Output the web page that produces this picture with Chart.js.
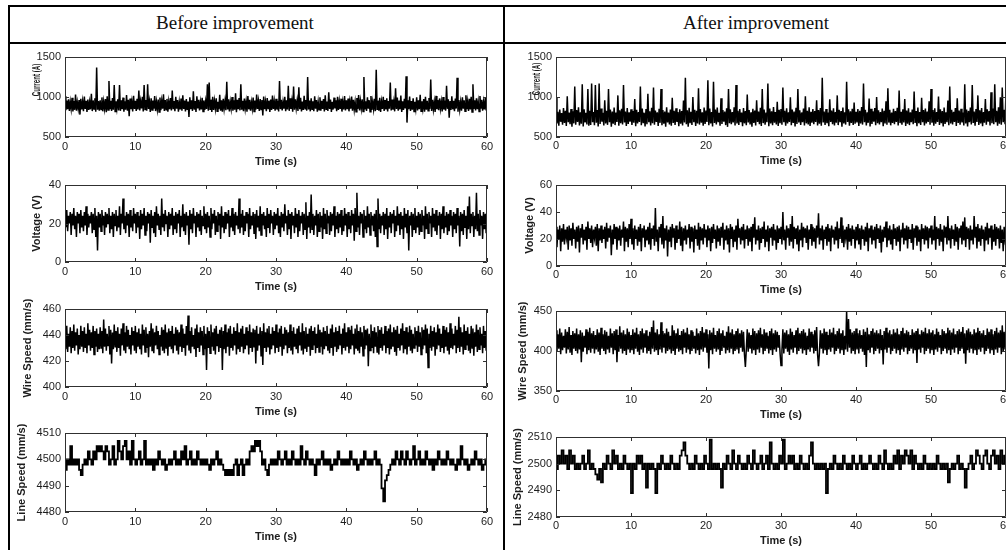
<!DOCTYPE html>
<html>
<head>
<meta charset="utf-8">
<script src="https://cdn.jsdelivr.net/npm/chart.js@4.4.1/dist/chart.umd.min.js"></script>
<style>
  html, body { margin: 0; padding: 0; background: #fff; }
  body { width: 1006px; height: 550px; overflow: hidden; position: relative; }
  .rule { position: absolute; background: #000; }
  .head { position: absolute; top: 12px; font-family: "Liberation Serif", "Times New Roman", serif;
          font-size: 19px; color: #111; white-space: nowrap; transform: translateX(-50%); }
  canvas { position: absolute; }
</style>
</head>
<body>
<!-- table frame -->
<div class="rule" style="left:9px; top:5px; width:1000px; height:2px;"></div>
<div class="rule" style="left:9px; top:42px; width:1000px; height:2px;"></div>
<div class="rule" style="left:8px; top:5px; width:2px; height:560px;"></div>
<div class="rule" style="left:503px; top:5px; width:2px; height:560px;"></div>
<div class="head" style="left:235px;">Before improvement</div>
<div class="head" style="left:756px;">After improvement</div>

<canvas id="bCur"></canvas>
<canvas id="bVol"></canvas>
<canvas id="bWire"></canvas>
<canvas id="bLine"></canvas>
<canvas id="aCur"></canvas>
<canvas id="aVol"></canvas>
<canvas id="aWire"></canvas>
<canvas id="aLine"></canvas>

<script>
// Sampling steps (s): arc signals and line-speed encoder
const ARC_INTERVAL = 0.125;
const LINE_INTERVAL = 0.25;
const TIME_TICKS = { min: 0, max: 60, step: 10 };

// ---------- Before improvement ----------
const beforeCurrent = [
  1010,835,955,848,972,826,940,852,990,818,948,840,1030,829,935,855,962,780,978,845,944,822,1005,850,951,812,968,838,938,846,1040,824,957,851,983,816,1370,842,949,830,
  960,844,995,821,942,853,975,809,1008,837,1200,848,953,825,986,840,1150,818,947,856,971,833,1150,827,958,849,992,815,945,841,1025,828,964,760,981,847,939,820,1015,852,
  953,826,979,845,1080,831,946,857,1002,819,1150,843,961,828,1160,850,944,814,985,839,957,853,1012,824,940,846,969,811,993,836,951,855,1035,827,962,842,976,817,943,849,
  988,832,1080,847,950,823,1001,854,963,815,937,844,982,829,1020,851,955,820,974,838,942,750,996,848,959,826,1070,843,948,812,1010,856,966,831,939,845,991,819,957,840,
  945,850,1160,827,1180,846,967,813,1003,839,952,857,984,822,941,848,1028,830,960,816,977,852,949,834,1190,845,970,821,938,855,999,828,958,842,1045,810,964,849,986,833,
  1160,841,951,824,980,853,943,817,1012,846,965,829,936,855,994,820,957,840,1030,851,948,826,973,844,961,770,1005,848,940,823,987,856,954,814,969,837,1018,850,946,828,
  978,843,952,818,1200,849,966,831,939,854,1001,822,958,845,1140,827,983,852,944,815,1130,840,971,856,950,825,1120,847,990,819,942,838,1015,853,963,829,1250,844,955,821,
  984,848,947,823,1009,855,962,816,938,841,996,830,953,852,975,819,1022,846,944,827,1060,850,967,813,940,843,992,857,959,824,1004,839,948,851,979,818,936,845,1013,832,
  957,847,981,821,943,854,1006,828,965,842,939,815,988,850,1024,833,951,856,972,820,1250,844,946,826,997,853,960,817,1011,840,942,849,976,823,1340,847,954,830,989,812,
  941,851,1003,826,962,845,985,818,949,855,1180,832,968,843,937,821,1110,850,994,829,956,846,1019,814,945,839,978,857,1260,680,960,848,1007,825,950,842,983,819,940,853,
  996,831,958,847,1027,822,947,854,974,816,1002,840,953,828,987,851,1220,825,966,845,939,813,1014,849,961,834,982,856,944,820,999,843,957,829,1140,852,970,740,948,838,
  1008,846,952,824,980,855,1240,817,963,841,937,830,995,853,958,821,1021,848,946,826,977,844,1004,812,1160,850,959,833,985,847,942,819,1012,854,966,828,938,845,990,831,
  1040
];
const beforeVoltage = [
  25,18,27,16,24,20,26,14,25,19,28,17,24,13,26,20,25,15,27,18,24,16,26,19,29,14,25,18,24,20,26,15,25,17,28,13,24,6,26,18,
  25,16,27,19,24,14,26,18,25,20,28,15,24,17,26,13,25,19,27,16,24,18,29,14,25,20,33,17,24,15,26,19,25,13,27,18,24,16,28,20,
  25,15,26,18,24,12,27,17,25,19,28,14,24,16,26,20,25,10,27,18,24,15,26,13,29,19,25,17,24,14,33,18,25,16,27,20,24,13,26,17,
  25,19,28,14,24,17,26,15,25,20,27,13,24,18,30,16,25,14,26,19,24,9,27,17,25,15,28,20,24,13,26,18,25,16,27,14,24,19,29,17,
  25,15,26,18,24,13,28,17,25,20,27,14,24,16,26,19,25,12,29,18,24,15,26,17,25,20,27,13,24,18,28,16,25,14,26,19,24,17,33,15,
  25,18,27,14,24,16,26,20,25,13,28,17,24,19,26,15,25,12,27,18,24,16,29,14,25,19,26,17,24,13,28,18,25,15,27,20,24,14,26,17,
  25,19,28,15,24,13,26,18,25,16,30,20,24,14,27,17,25,12,26,19,24,15,28,18,25,13,27,16,24,20,26,14,25,17,31,12,24,18,26,15,
  35,17,25,14,24,19,27,13,25,16,26,18,24,12,28,17,25,15,27,20,24,14,26,16,25,19,29,13,24,17,26,15,25,18,27,14,24,16,28,19,
  25,13,26,17,24,15,27,19,25,11,28,16,36,18,24,14,26,20,25,13,27,17,24,15,29,18,25,14,26,19,24,16,25,13,27,8,33,17,25,15,
  24,19,26,14,25,17,28,12,24,18,26,15,25,20,27,13,24,16,29,19,25,14,26,17,24,12,28,18,25,15,27,6,24,19,26,13,25,17,28,15,
  24,18,26,14,25,16,27,19,24,12,29,17,25,15,26,20,24,13,28,18,25,16,27,14,24,19,26,12,25,17,29,15,24,18,26,14,25,16,27,19,
  24,13,26,17,25,15,28,19,24,8,26,16,25,14,27,18,24,12,29,17,34,15,25,19,26,13,24,17,36,16,25,14,27,19,24,12,26,17,25,15,
  30
];
const beforeWireSpeed = [
  444,429,447,427,441,431,446,426,443,430,448,428,442,432,445,425,440,429,447,431,443,427,446,430,441,426,449,432,444,428,442,430,447,425,443,431,445,427,441,429,
  446,430,443,426,452,431,445,428,441,432,447,425,444,418,442,429,448,431,443,427,446,430,441,424,445,432,449,428,442,426,447,431,444,429,440,425,446,432,443,428,
  447,426,442,431,445,429,441,425,448,432,444,427,446,430,441,423,443,431,449,428,445,426,442,432,447,429,443,425,440,431,446,428,444,426,448,430,442,424,445,431,
  443,429,447,426,441,432,446,428,444,425,442,431,448,427,445,430,441,424,447,432,455,428,443,426,446,431,440,429,445,423,448,430,442,427,446,432,443,425,447,429,
  441,413,446,430,443,426,448,431,442,428,445,425,447,432,441,427,444,430,446,413,443,429,448,426,442,431,445,424,447,430,441,428,446,432,443,425,449,429,442,427,
  445,431,447,426,441,429,446,432,443,425,448,430,442,427,445,431,444,418,447,428,441,432,446,424,443,417,449,430,442,427,445,431,447,425,441,429,446,432,443,426,
  448,430,442,427,445,431,447,424,441,429,446,432,444,426,442,430,448,428,443,425,446,431,441,429,445,426,447,432,442,428,449,425,443,430,446,427,441,431,445,424,
  447,429,443,432,446,426,441,430,448,427,444,431,442,425,446,429,443,432,447,428,441,426,445,430,448,424,442,431,446,427,443,429,447,432,441,425,445,430,449,428,
  442,431,446,426,444,429,447,432,441,425,445,430,448,428,443,426,446,431,442,424,447,429,444,432,445,416,441,428,448,430,443,426,446,431,442,427,447,425,444,430,
  446,428,441,432,447,426,443,430,445,425,448,429,442,431,446,427,444,424,447,430,441,428,445,432,449,426,443,429,446,425,442,431,447,428,444,426,441,430,446,432,
  443,427,447,431,442,425,446,429,444,432,448,426,445,415,441,430,447,428,443,431,446,424,442,429,448,432,445,427,441,430,447,426,444,431,446,428,442,425,449,430,
  445,429,441,432,447,426,444,430,454,427,446,431,442,425,448,429,443,432,446,428,441,426,447,430,445,424,442,431,448,427,444,429,446,432,441,426,447,430,443,428,
  441
];
const beforeLineSpeed = [
  4496,4500,4498,4505,4498,4500,4498,4500,4496,4494,4498,4500,4498,4503,4500,4498,4503,4500,4505,4503,
  4505,4503,4500,4505,4503,4498,4500,4505,4498,4500,4507,4503,4500,4505,4507,4500,4503,4498,4507,4500,
  4498,4500,4503,4498,4500,4507,4498,4500,4498,4500,4496,4500,4498,4503,4500,4498,4500,4496,4498,4500,
  4498,4500,4503,4498,4500,4498,4503,4500,4505,4498,4500,4503,4498,4500,4498,4503,4500,4498,4500,4498,
  4500,4498,4496,4500,4498,4500,4503,4498,4500,4498,4496,4494,4496,4494,4496,4494,4498,4500,4494,4498,
  4500,4494,4498,4500,4498,4503,4505,4503,4507,4505,4507,4503,4498,4500,4496,4494,4498,4500,4498,4500,
  4498,4503,4500,4498,4500,4503,4498,4500,4498,4503,4500,4498,4500,4498,4505,4500,4498,4503,4500,4498,
  4500,4498,4494,4500,4498,4500,4503,4498,4500,4498,4500,4496,4498,4500,4498,4503,4500,4498,4500,4498,
  4500,4498,4503,4500,4498,4500,4496,4498,4500,4498,4503,4500,4498,4500,4498,4500,4503,4498,4500,4498,
  4489,4484,4492,4494,4496,4498,4500,4498,4503,4500,4498,4503,4500,4498,4503,4500,4498,4500,4505,4498,
  4500,4503,4498,4500,4498,4503,4500,4498,4500,4496,4500,4498,4503,4500,4498,4500,4498,4503,4500,4498,
  4500,4498,4496,4500,4498,4505,4500,4498,4500,4496,4498,4500,4498,4503,4500,4498,4500,4496,4498,4500,
  4500
];

// ---------- After improvement ----------
const afterCurrent = [
  990,668,815,642,842,690,798,655,861,676,827,638,1010,684,805,660,849,629,820,671,1130,653,836,688,872,645,810,667,1160,632,845,681,803,658,1100,640,826,650,1170,686,
  812,647,1150,679,838,633,1170,662,856,691,801,644,960,670,829,652,1100,685,843,628,817,666,868,649,807,687,1020,641,834,673,852,656,1150,682,819,637,862,664,808,690,
  846,651,825,678,975,635,839,668,813,689,1130,646,857,674,804,631,848,660,1040,684,822,643,866,671,1120,654,831,688,809,639,853,677,1100,648,837,665,818,630,871,683,
  806,657,844,640,990,676,828,652,859,689,811,634,847,667,823,645,955,681,1240,660,834,628,864,672,815,650,1000,686,841,638,826,669,1110,655,850,679,808,642,867,663,
  830,687,1210,646,855,670,812,633,1190,675,842,656,869,684,802,641,985,664,836,690,818,649,858,627,1100,673,845,659,811,682,870,643,1150,668,827,652,848,685,805,636,
  861,671,824,648,1030,683,838,657,809,630,852,676,832,644,960,688,817,661,865,639,1100,674,843,653,806,686,1170,635,856,668,821,647,874,680,813,658,940,637,839,672,
  848,654,1120,684,826,640,859,669,810,689,995,646,844,675,819,631,866,662,1100,681,835,650,807,686,857,643,1010,671,829,656,872,637,814,678,850,660,825,689,960,645,
  837,666,863,641,1240,683,818,652,849,674,805,634,970,687,832,659,858,644,812,678,1020,649,841,684,824,630,867,670,809,655,1190,688,846,642,821,676,854,651,930,667,
  816,683,849,639,827,670,873,655,1170,686,840,644,808,677,980,632,853,663,820,690,862,648,1000,672,834,657,811,685,857,636,828,669,945,652,1110,680,839,646,804,675,
  851,661,823,689,866,643,1080,674,815,654,845,682,975,638,830,667,858,649,809,686,842,660,1070,676,824,635,869,671,812,650,990,684,838,645,856,668,817,688,948,653,
  1100,679,836,641,860,666,813,687,1005,650,847,673,825,633,868,662,810,684,955,647,1130,670,839,656,816,689,863,639,985,675,831,653,854,681,807,644,1160,668,844,631,
  826,685,869,658,1150,676,818,642,850,688,1020,651,833,670,861,636,812,680,975,655,845,690,823,645,1060,673,856,661,1160,684,829,640,872,667,995,652,1120,686,840,659,
  1080
];
const afterVoltage = [
  29,14,27,20,30,11,28,18,31,16,27,21,29,12,30,19,28,15,32,20,27,13,29,18,30,10,28,21,31,16,27,19,29,12,33,20,28,17,30,14,
  27,21,29,15,31,11,28,19,30,17,27,20,29,13,32,18,28,21,30,8,27,16,31,20,29,12,28,19,30,15,27,21,33,11,29,18,28,14,31,20,
  35,16,28,12,30,20,27,15,29,18,31,11,28,21,30,14,27,19,29,16,32,12,28,20,30,15,43,18,27,11,29,21,31,16,37,13,28,19,30,7,
  27,18,29,14,31,21,28,12,30,17,27,20,33,15,29,11,28,19,30,16,27,21,31,13,29,18,28,10,30,20,27,15,32,12,29,19,28,16,31,21,
  27,14,30,19,28,11,29,17,31,20,27,13,30,18,28,15,29,21,32,12,27,19,30,16,28,10,31,20,29,14,27,18,30,12,35,21,28,16,29,19,
  31,13,27,20,30,15,28,18,29,11,31,21,36,16,27,19,30,12,28,17,29,20,33,14,27,18,30,11,28,21,29,15,31,19,27,12,30,17,28,20,
  29,16,40,19,27,12,30,21,28,15,31,18,37,13,29,20,28,16,30,11,27,19,32,14,29,21,28,17,30,12,27,20,31,15,29,18,28,13,30,21,
  39,16,28,19,30,12,27,20,29,15,31,18,28,11,30,21,27,16,29,19,33,13,28,20,36,17,30,14,27,21,29,12,31,18,28,15,30,20,27,13,
  29,19,31,16,28,12,30,20,27,15,29,18,32,11,28,21,30,16,27,19,29,13,31,20,28,17,30,10,27,18,29,21,33,14,28,19,30,16,27,12,
  31,20,28,15,29,18,30,11,27,21,32,16,28,19,30,13,29,20,27,17,31,12,28,21,30,15,29,18,27,11,31,20,28,16,30,19,29,13,28,21,
  30,16,27,19,37,12,29,20,28,15,31,18,27,11,30,21,29,16,37,19,28,13,30,20,27,15,31,18,29,12,28,21,30,16,33,19,36,14,29,20,
  28,12,30,19,27,16,37,21,29,13,31,18,28,15,30,20,27,11,29,19,32,16,28,21,30,12,27,18,31,15,29,20,28,13,30,17,27,11,29,19,
  22
];
const afterWireSpeed = [
  426,399,421,403,428,396,423,401,419,404,427,397,424,402,430,398,420,395,425,403,422,400,428,397,421,402,426,386,423,399,419,404,427,396,424,401,429,398,422,403,
  425,397,420,402,427,399,423,395,429,403,421,400,426,396,424,402,419,398,428,404,422,396,425,401,427,386,420,399,431,403,423,397,426,400,421,395,428,402,424,398,
  420,401,427,396,423,403,429,399,421,395,425,402,428,398,422,404,426,397,419,400,424,396,430,403,438,399,423,401,427,395,421,402,436,398,425,404,422,397,428,400,
  424,402,419,397,432,400,426,395,422,403,428,399,420,401,425,396,427,404,423,398,429,402,421,396,426,400,424,403,419,397,428,401,422,395,425,402,430,399,423,404,
  427,398,421,378,426,401,423,396,429,403,420,399,425,402,428,395,422,400,426,404,419,397,424,401,431,398,423,403,427,396,421,400,425,402,428,397,422,404,426,399,
  424,396,380,402,427,399,423,403,420,397,428,401,425,395,422,402,426,398,429,404,421,396,427,400,423,403,419,397,425,401,428,395,422,402,426,399,424,404,420,397,
  382,401,427,397,423,403,426,399,421,395,428,402,424,398,420,404,426,396,429,400,422,403,425,397,427,401,423,395,419,402,428,399,424,404,421,397,426,400,430,396,
  381,398,426,403,422,397,428,401,424,395,420,402,427,399,423,404,429,396,421,400,425,403,428,397,422,401,426,395,419,402,450,399,440,404,427,397,423,400,425,396,
  428,402,422,397,426,403,420,399,427,395,424,380,429,401,421,398,425,404,428,396,423,400,426,403,422,397,427,401,420,383,425,402,429,398,423,404,426,396,421,400,
  427,403,423,397,428,401,421,395,425,402,429,399,422,404,426,396,424,400,420,403,427,397,423,401,425,385,428,402,421,398,426,404,424,396,429,400,422,403,427,397,
  423,401,426,395,421,402,428,399,424,404,420,396,427,400,425,403,422,397,429,401,426,395,423,402,428,398,421,404,425,396,427,400,424,403,430,397,422,384,426,401,
  428,398,424,403,421,397,427,401,423,395,429,402,425,399,422,404,426,396,420,400,428,403,424,397,427,401,421,395,425,402,429,398,423,404,426,396,432,400,424,402,
  426
];
const afterLineSpeed = [
  2498,2503,2500,2505,2500,2503,2498,2505,2500,2503,2498,2500,2498,2500,2503,2498,2500,2505,2498,2500,
  2498,2496,2494,2498,2493,2500,2498,2503,2500,2498,2505,2500,2503,2498,2500,2498,2503,2500,2498,2500,
  2489,2500,2498,2503,2500,2503,2498,2500,2491,2500,2498,2500,2498,2489,2500,2498,2503,2500,2498,2500,
  2498,2503,2500,2498,2500,2498,2503,2505,2508,2503,2500,2498,2500,2498,2503,2500,2498,2500,2498,2503,
  2500,2498,2509,2498,2500,2498,2500,2498,2491,2500,2498,2503,2500,2498,2505,2500,2498,2503,2500,2498,
  2500,2498,2503,2500,2498,2505,2500,2498,2500,2503,2498,2500,2503,2498,2508,2500,2498,2500,2498,2503,
  2500,2509,2498,2500,2503,2500,2503,2498,2500,2498,2503,2500,2498,2500,2498,2503,2508,2500,2498,2500,
  2498,2500,2498,2500,2489,2498,2500,2498,2503,2500,2498,2500,2498,2503,2500,2498,2500,2498,2503,2500,
  2498,2500,2503,2498,2500,2498,2500,2503,2500,2498,2500,2498,2503,2500,2498,2505,2500,2498,2500,2498,
  2503,2500,2505,2498,2503,2500,2505,2503,2500,2505,2498,2503,2500,2498,2500,2498,2503,2500,2498,2500,
  2498,2500,2498,2503,2500,2498,2500,2498,2500,2493,2498,2500,2498,2500,2503,2498,2500,2498,2491,2498,
  2500,2503,2498,2500,2505,2503,2500,2498,2503,2505,2500,2498,2503,2505,2500,2503,2498,2505,2500,2503,
  2500
];

// y-axis ranges [min, max, step]
const curRange = [500, 1500, 500];
const bVolRange = [0, 40, 20];
const aVolRange = [0, 60, 20];
const bWireRange = [400, 460, 20];
const aWireRange = [350, 450, 50];
const bLineRange = [4480, 4510, 10];
const aLineRange = [2480, 2510, 10];

// ---------- drawing ----------
const FONT_FAMILY = "'Liberation Sans', Arial, sans-serif";
const TICK_FONT = { family: FONT_FAMILY, size: 11 };
const LABEL_FONT = { family: FONT_FAMILY, size: 11, weight: 'bold' };
const TEXT_COLOR = '#1c1c1c';
const TOP_PAD = 16;

// MATLAB-style box with inward ticks on all four sides
const boxFrame = {
  id: 'boxFrame',
  afterDatasetsDraw(chart) {
    const { ctx, chartArea: a, scales: { x, y } } = chart;
    const tl = 4;
    ctx.save();
    ctx.strokeStyle = '#303030';
    ctx.lineWidth = 1;
    ctx.beginPath();
    ctx.rect(a.left + 0.5, a.top + 0.5, a.right - a.left - 1, a.bottom - a.top - 1);
    x.ticks.forEach(t => {
      const px = Math.round(x.getPixelForValue(t.value)) + 0.5;
      ctx.moveTo(px, a.bottom); ctx.lineTo(px, a.bottom - tl);
      ctx.moveTo(px, a.top); ctx.lineTo(px, a.top + tl);
    });
    y.ticks.forEach(t => {
      const py = Math.round(y.getPixelForValue(t.value)) + 0.5;
      ctx.moveTo(a.left, py); ctx.lineTo(a.left + tl, py);
      ctx.moveTo(a.right, py); ctx.lineTo(a.right - tl, py);
    });
    ctx.stroke();
    ctx.restore();
  }
};

// rotated y-axis caption placed at a given x (and optional y) on the canvas;
// squeeze < 1 condenses the caption along its length
const yCaption = {
  id: 'yCaption',
  afterDraw(chart, args, o) {
    const { ctx, chartArea: a } = chart;
    ctx.save();
    ctx.translate(o.x, o.y != null ? o.y : (a.top + a.bottom) / 2);
    ctx.rotate(-Math.PI / 2);
    ctx.scale(o.squeeze || 1, 1);
    ctx.font = `bold ${o.size}px ${FONT_FAMILY}`;
    ctx.fillStyle = TEXT_COLOR;
    ctx.textAlign = 'center';
    ctx.textBaseline = 'middle';
    ctx.fillText(o.text, 0, 0);
    ctx.restore();
  }
};

function panel(id, g, values, interval, range, yTitle, stepped) {
  const cv = document.getElementById(id);
  const top = g.plotTop - TOP_PAD;
  const h = g.plotBottom - g.plotTop + TOP_PAD + 34;
  cv.width = g.w; cv.height = h;
  cv.style.left = g.x + 'px'; cv.style.top = top + 'px';
  cv.style.width = g.w + 'px'; cv.style.height = h + 'px';
  new Chart(cv, {
    type: 'line',
    data: {
      datasets: [{
        data: values.map((v, i) => ({ x: i * interval, y: v })),
        borderColor: '#000',
        borderWidth: stepped ? 1.8 : 1.5,
        pointRadius: 0,
        tension: 0,
        stepped: stepped ? 'before' : false
      }]
    },
    options: {
      responsive: false,
      animation: false,
      devicePixelRatio: 1,
      events: [],
      layout: { padding: { top: TOP_PAD, right: g.padR, left: 0, bottom: 0 } },
      plugins: {
        legend: { display: false },
        tooltip: { enabled: false },
        yCaption: { text: yTitle, x: g.capX - g.x, y: g.capY != null ? g.capY - top : null,
                    size: 11, squeeze: g.squeeze || 1 }
      },
      scales: {
        x: {
          type: 'linear', min: TIME_TICKS.min, max: TIME_TICKS.max,
          ticks: { stepSize: TIME_TICKS.step, padding: g.xTickPad, font: TICK_FONT, color: TEXT_COLOR,
                   maxRotation: 0, autoSkip: false, callback: v => String(v) },
          grid: { display: false, drawTicks: false },
          border: { display: false },
          title: { display: true, text: 'Time (s)', font: LABEL_FONT, color: TEXT_COLOR, padding: { top: 0, bottom: g.xTitlePad } },
          afterFit: s => { s.height = 34; s.paddingLeft = 0; s.paddingRight = 0; }
        },
        y: {
          type: 'linear', min: range[0], max: range[1],
          ticks: { stepSize: range[2], padding: 4, font: TICK_FONT, color: TEXT_COLOR, autoSkip: false, callback: v => String(v) },
          grid: { display: false, drawTicks: false },
          border: { display: false },
          afterFit: s => { s.width = g.yW; s.paddingTop = 0; s.paddingBottom = 0; }
        }
      }
    },
    plugins: [boxFrame, yCaption]
  });
}

// left column: plot area x 65..487, right column: 556..1006
const L = { x: 12, w: 488, yW: 53, padR: 13, xTickPad: 3, xTitlePad: 2 };
const R = { x: 507, w: 523, yW: 49, padR: 24, xTickPad: 2, xTitlePad: 3 };

panel('bCur',  { ...L, plotTop: 57,  plotBottom: 137, capX: 37, capY: 80, squeeze: 0.56 }, beforeCurrent,   ARC_INTERVAL,  curRange,   'Current (A)', false);
panel('bVol',  { ...L, plotTop: 185, plotBottom: 262, capX: 37 }, beforeVoltage,   ARC_INTERVAL,  bVolRange,  'Voltage (V)', false);
panel('bWire', { ...L, plotTop: 309, plotBottom: 387, capX: 28 }, beforeWireSpeed, ARC_INTERVAL,  bWireRange, 'Wire Speed (mm/s)', false);
panel('bLine', { ...L, plotTop: 433, plotBottom: 512, capX: 22 }, beforeLineSpeed, LINE_INTERVAL, bLineRange, 'Line Speed (mm/s)', true);

panel('aCur',  { ...R, plotTop: 57,  plotBottom: 137, capX: 537, capY: 79, squeeze: 0.56 }, afterCurrent,   ARC_INTERVAL,  curRange,   'Current (A)', false);
panel('aVol',  { ...R, plotTop: 185, plotBottom: 266, capX: 530 }, afterVoltage,   ARC_INTERVAL,  aVolRange,  'Voltage (V)', false);
panel('aWire', { ...R, plotTop: 311, plotBottom: 391, capX: 523 }, afterWireSpeed, ARC_INTERVAL,  aWireRange, 'Wire Speed (mm/s)', false);
panel('aLine', { ...R, plotTop: 437, plotBottom: 517, capX: 518 }, afterLineSpeed, LINE_INTERVAL, aLineRange, 'Line Speed (mm/s)', true);
</script>
</body>
</html>
